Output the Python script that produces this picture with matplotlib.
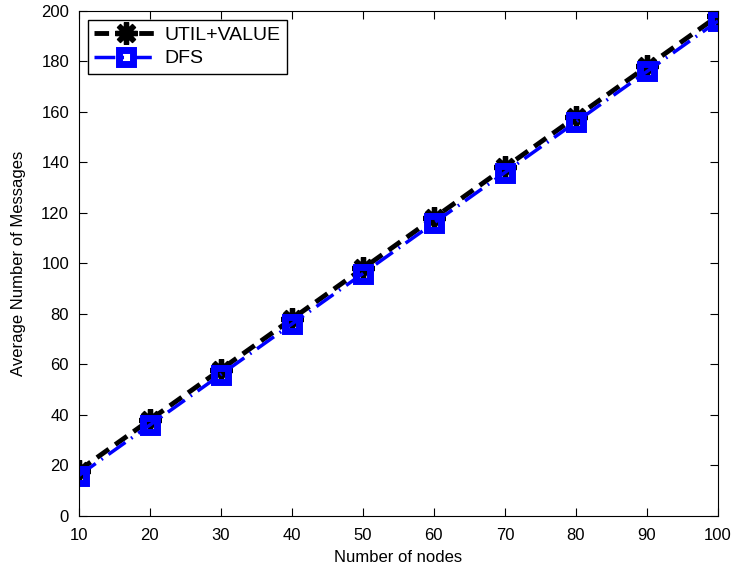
import matplotlib
matplotlib.use("Agg")
import matplotlib.pyplot as plt

plt.rcParams["font.family"] = ["Liberation Sans", "DejaVu Sans"]

nodes = [10, 20, 30, 40, 50, 60, 70, 80, 90, 100]
util_value = [18, 38, 58, 78, 98, 118, 138, 158, 178, 198]
dfs = [16, 36, 56, 76, 96, 116, 136, 156, 176, 196]

fig = plt.figure(figsize=(7.36, 5.73), dpi=100)
ax = fig.add_axes([0.107, 0.0995, 0.8685, 0.8815])

ax.plot(nodes, util_value, color="black", ls=(0, (3, 1.6)), lw=3.5,
        marker=(8, 2, 0), ms=16, mew=3.8, label="UTIL+VALUE")
ax.plot(nodes, dfs, color="#0000ff", ls=(0, (6, 2, 0.5, 2)), lw=2.5,
        marker="s", ms=10, mew=5, mfc="none", label="DFS")

ax.set_xlim(10, 100)
ax.set_ylim(0, 200)
ax.set_xticks(nodes)
ax.set_yticks(range(0, 201, 20))
ax.tick_params(axis="x", pad=9)
ax.tick_params(axis="y", pad=7)
ax.tick_params(direction="in", labelsize=12, length=6, top=True, right=True)
ax.set_xlabel("Number of nodes", fontsize=12, labelpad=5)
ax.set_ylabel("Average Number of Messages", fontsize=12, labelpad=11)

leg = ax.legend(loc="upper left", fontsize=14, fancybox=False, framealpha=1,
                edgecolor="black", handlelength=3.3, borderaxespad=0.45,
                handletextpad=0.3, labelspacing=0.3, borderpad=0.35)
leg.get_frame().set_linewidth(1)

fig.savefig("out.png", dpi=100)
